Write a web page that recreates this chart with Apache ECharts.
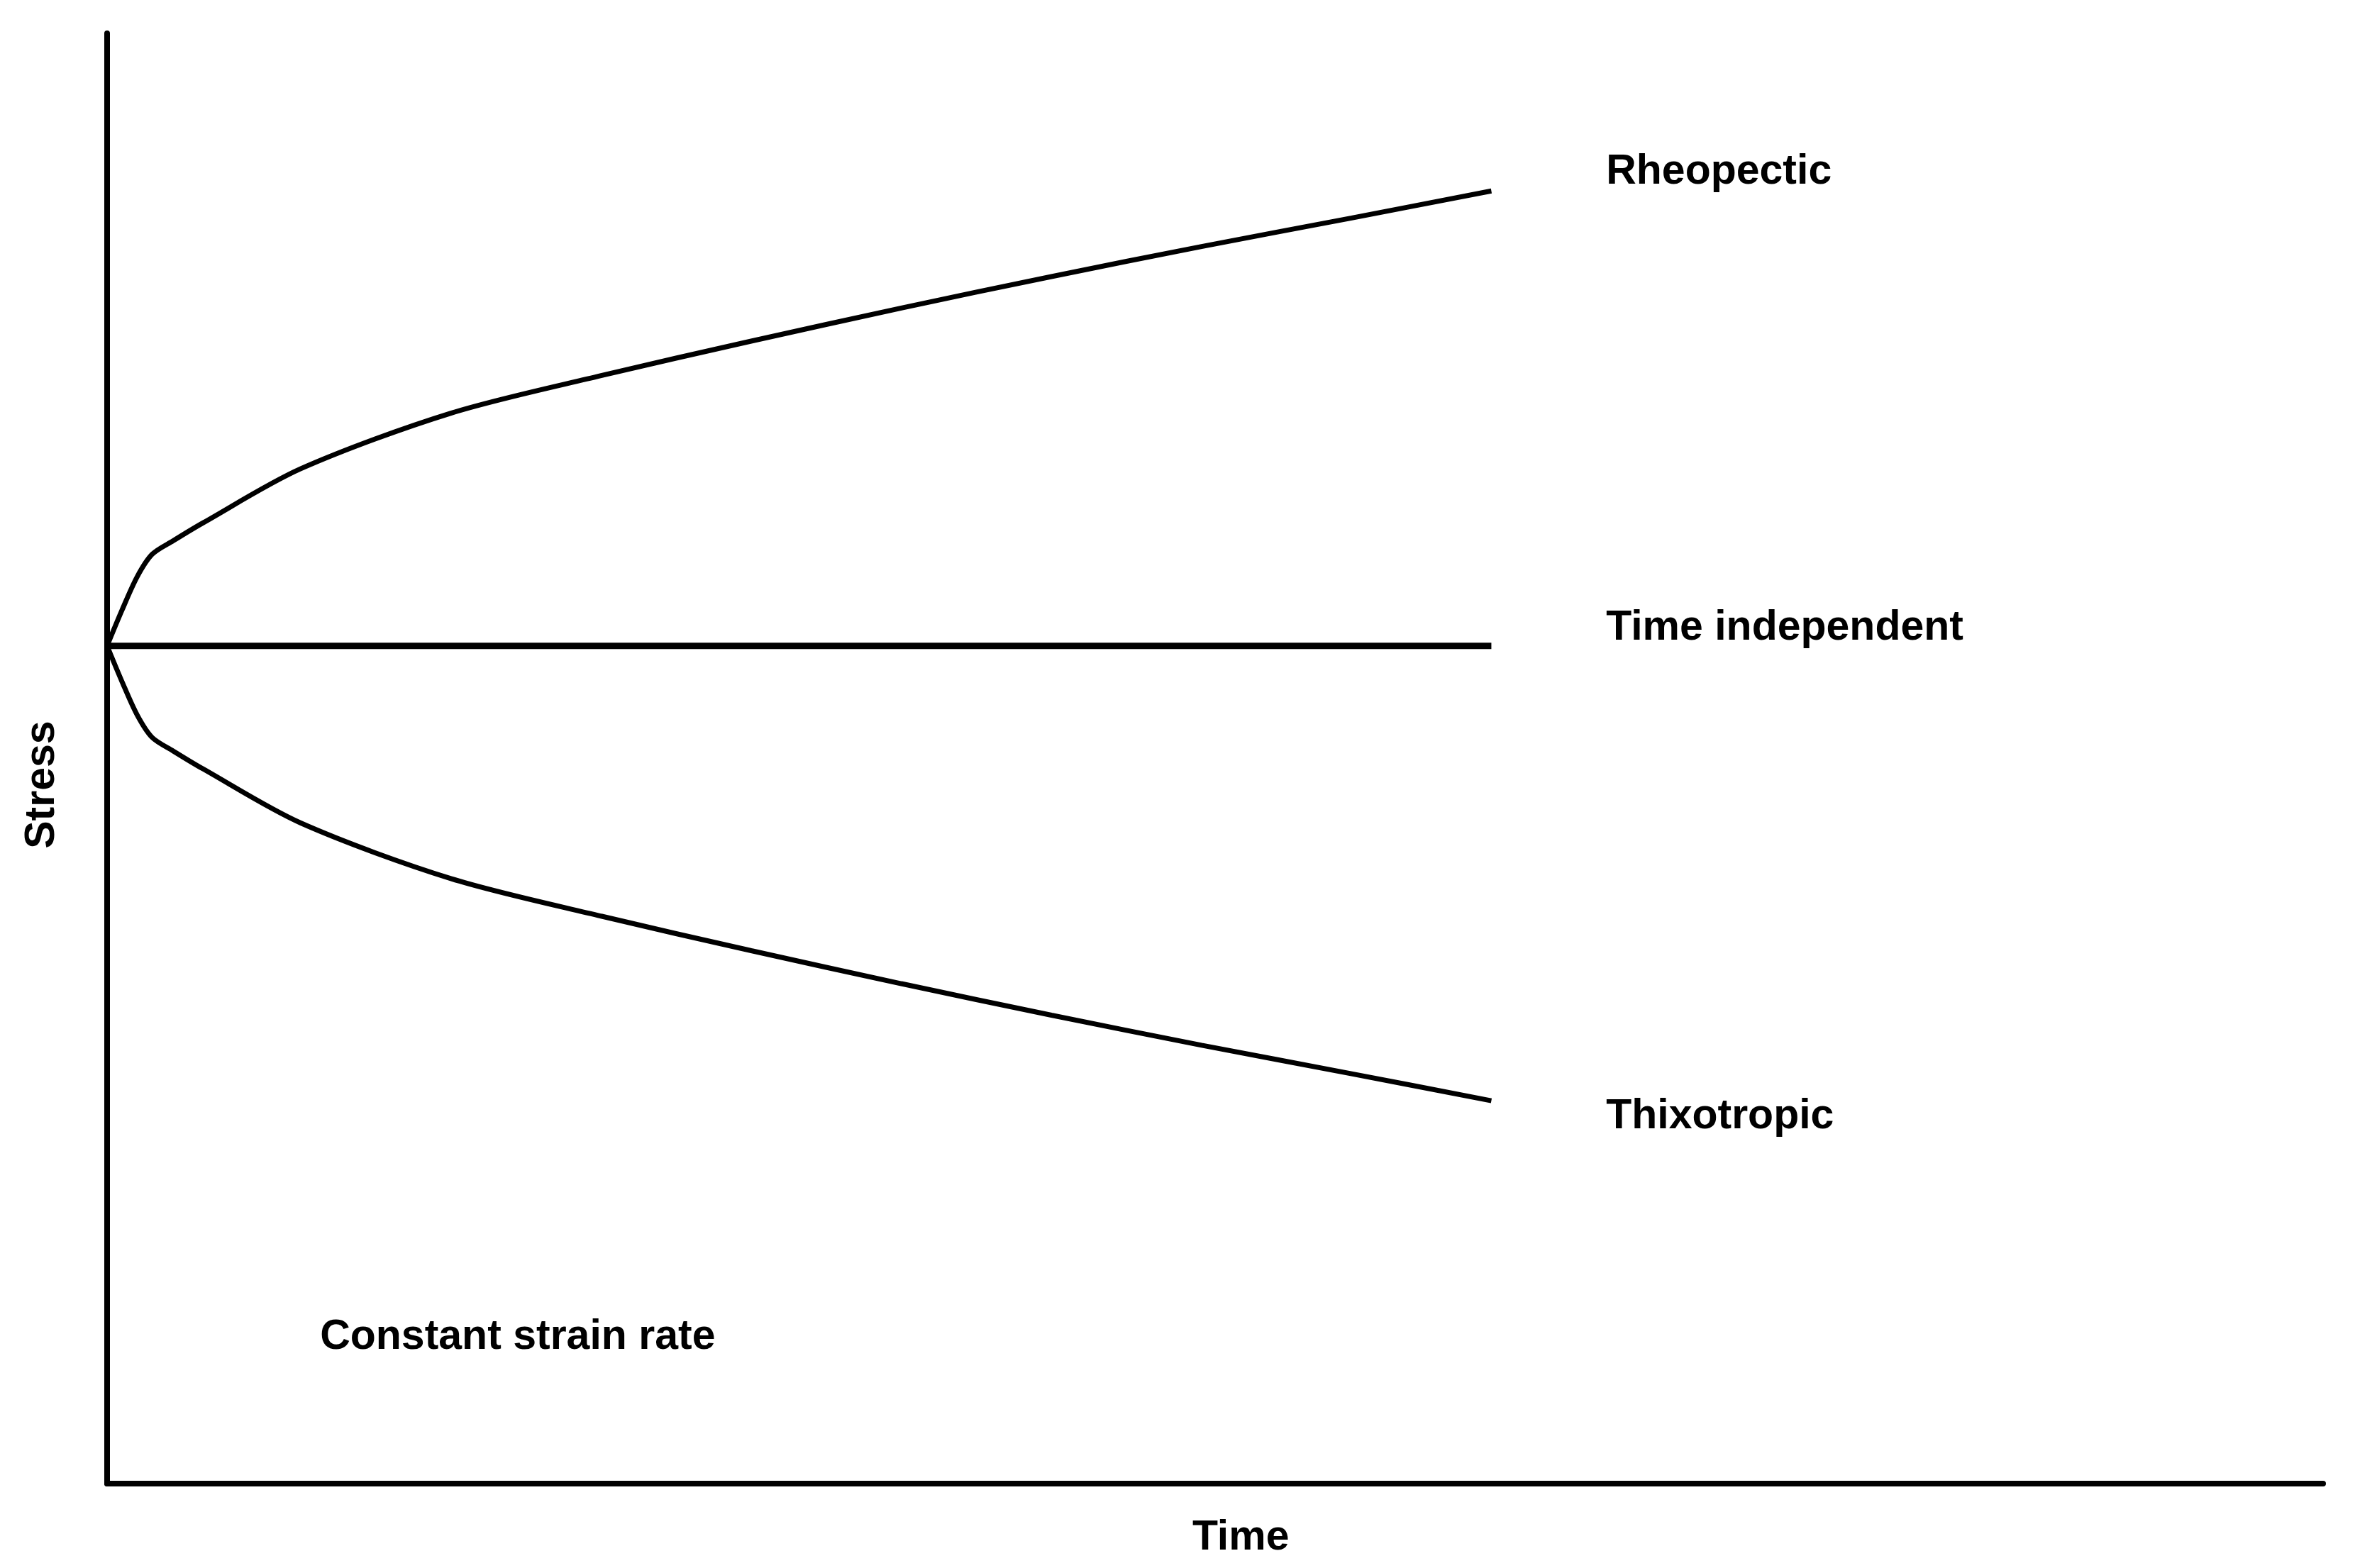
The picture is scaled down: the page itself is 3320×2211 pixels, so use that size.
<!DOCTYPE html>
<html><head><meta charset="utf-8">
<script src="https://cdn.jsdelivr.net/npm/echarts@6/dist/echarts.min.js"></script>
<style>html,body{margin:0;padding:0;background:#fff}#c{width:3320px;height:2211px}</style>
</head><body><div id="c"></div>
<script>
const timeX = [0, 10, 20, 30, 44, 64, 129, 229, 329, 429, 529, 629, 729, 829, 922];
const rheopectic = [558, 582, 604, 619, 628, 640, 676, 713, 738, 761, 783, 804, 824, 843, 861];
const thixotropic = [558, 534, 512, 497, 488, 476, 440, 403, 378, 355, 333, 312, 292, 273, 255];
const flatX = [0, 922];
const flat = [558, 558];
const labels = ['Rheopectic', 'Time independent', 'Thixotropic'];
const S = 2.128;
const font = 'Liberation Sans, Arial, sans-serif';
const fs = Math.round(27.5*S);
const chart = echarts.init(document.getElementById('c'));
const pair = (xs, ys) => xs.map((x, i) => [x, ys[i]]);
const lineS = (d, w) => ({type:'line', data:d, smooth:0.3, showSymbol:false, lineStyle:{color:'#000', width:w}, animation:false});
const txt = (t, x, y, align) => ({type:'text', x:x*S, y:y*S, rotation:0, style:{text:t, font:'bold '+fs+'px '+font, fill:'#000', textAlign:align||'left', textVerticalAlign:'middle'}});
const stress = txt('Stress', 28, 520, 'center'); stress.rotation = Math.PI/2;
chart.setOption({
  backgroundColor:'#fff',
  grid:{left:151, right:45, top:47, bottom:119},
  xAxis:{type:'value', min:0, max:1476, axisLine:{lineStyle:{color:'#000', width:8}}, axisTick:{show:false}, axisLabel:{show:false}, splitLine:{show:false}},
  yAxis:{type:'value', min:0, max:966, axisLine:{show:true, lineStyle:{color:'#000', width:8}}, axisTick:{show:false}, axisLabel:{show:false}, splitLine:{show:false}},
  series:[
    lineS(pair(timeX, rheopectic), 7),
    lineS(pair(flatX, flat), 9),
    lineS(pair(timeX, thixotropic), 7)
  ],
  graphic:[
    txt(labels[0], 1064, 114),
    txt(labels[1], 1064, 416),
    txt(labels[2], 1064, 740),
    txt('Constant strain rate', 212, 886),
    txt('Time', 822, 1019, 'center'),
    stress
  ]
});
</script></body></html>
